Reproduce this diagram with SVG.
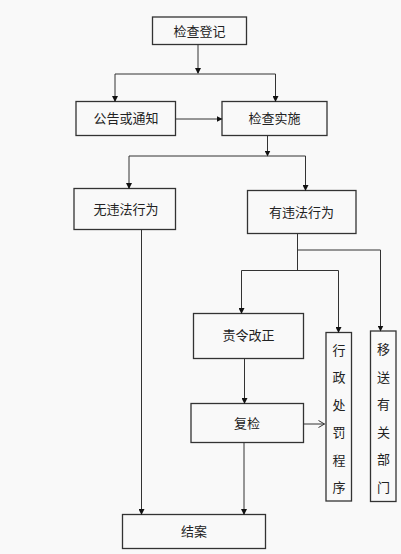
<svg xmlns="http://www.w3.org/2000/svg" width="401" height="554" viewBox="0 0 401 554">
<defs>
<style>
.box{fill:none;stroke:#333;stroke-width:1.3}
.t{font-family:"Noto Sans CJK SC","Noto Sans CJK JP",sans-serif;font-size:13px;fill:#222;text-anchor:middle}
.ln{fill:none;stroke:#333;stroke-width:1}
</style>
<marker id="ah" markerWidth="6" markerHeight="6" refX="5" refY="3" orient="auto" markerUnits="userSpaceOnUse">
<path d="M0,0 L6,3 L0,6 Z" fill="#111"/>
</marker>
<marker id="oh" markerWidth="8" markerHeight="8" refX="7" refY="4" orient="auto" markerUnits="userSpaceOnUse">
<path d="M1,0.5 L7,4 L1,7.5" fill="none" stroke="#333" stroke-width="1"/>
</marker>
</defs>
<rect width="401" height="554" fill="#f9f9f9"/>
<g id="n1"><rect class="box" x="152.5" y="17" width="94" height="27.5"/><text class="t" x="199.5" y="35.5">检查登记</text></g>
<g id="n2"><rect class="box" x="76" y="101.5" width="99.5" height="34"/><text class="t" x="126" y="123">公告或通知</text></g>
<g id="n3"><rect class="box" x="222" y="101.5" width="105" height="34"/><text class="t" x="274.5" y="123">检查实施</text></g>
<g id="n4"><rect class="box" x="74" y="188.5" width="101.5" height="41"/><text class="t" x="126" y="213.5">无违法行为</text></g>
<g id="n5"><rect class="box" x="247.5" y="190.5" width="108.5" height="43"/><text class="t" x="301.5" y="216.5">有违法行为</text></g>
<g id="n6"><rect class="box" x="193.5" y="313.5" width="110" height="45"/><text class="t" x="248.5" y="340">责令改正</text></g>
<g id="n7"><rect class="box" x="191" y="403.5" width="112.5" height="39"/><text class="t" x="247" y="427.5">复检</text></g>
<g id="n8"><rect class="box" x="326" y="332.5" width="25.5" height="168.5"/>
<text class="t" x="339" y="354.5">行</text><text class="t" x="339" y="382">政</text><text class="t" x="339" y="409.5">处</text><text class="t" x="339" y="437">罚</text><text class="t" x="339" y="464.5">程</text><text class="t" x="339" y="492">序</text></g>
<g id="n9"><rect class="box" x="370.5" y="331" width="25.5" height="170.5"/>
<text class="t" x="383.5" y="354">移</text><text class="t" x="383.5" y="381.5">送</text><text class="t" x="383.5" y="409">有</text><text class="t" x="383.5" y="436.5">关</text><text class="t" x="383.5" y="464">部</text><text class="t" x="383.5" y="491.5">门</text></g>
<g id="n10"><rect class="box" x="122.5" y="514.5" width="143" height="34"/><text class="t" x="194" y="536">结案</text></g>
<g id="connectors">
<path class="ln" d="M198,44.5 V73" marker-end="url(#ah)"/>
<path class="ln" d="M115,74 H275.5"/>
<path class="ln" d="M115,74 V101" marker-end="url(#ah)"/>
<path class="ln" d="M275.5,74 V101" marker-end="url(#ah)"/>
<path class="ln" d="M175.5,119 H221.5" marker-end="url(#ah)"/>
<path class="ln" d="M267.5,135.5 V155.5" marker-end="url(#ah)"/>
<path class="ln" d="M129,156 H305.5"/>
<path class="ln" d="M129,156 V188" marker-end="url(#ah)"/>
<path class="ln" d="M305.5,156 V190" marker-end="url(#ah)"/>
<path class="ln" d="M141.5,229.5 V514" marker-end="url(#ah)"/>
<path class="ln" d="M297.5,233.5 V270.5"/>
<path class="ln" d="M297.5,250 H380.5 V330.5" marker-end="url(#ah)"/>
<path class="ln" d="M241.5,270.5 H338.5"/>
<path class="ln" d="M241.5,270.5 V313" marker-end="url(#ah)"/>
<path class="ln" d="M338.5,270.5 V332" marker-end="url(#ah)"/>
<path class="ln" d="M244.5,358.5 V403" marker-end="url(#ah)"/>
<path class="ln" d="M303.5,424 H324.5" marker-end="url(#oh)"/>
<path class="ln" d="M244,442.5 V514" marker-end="url(#ah)"/>
</g>
</svg>
